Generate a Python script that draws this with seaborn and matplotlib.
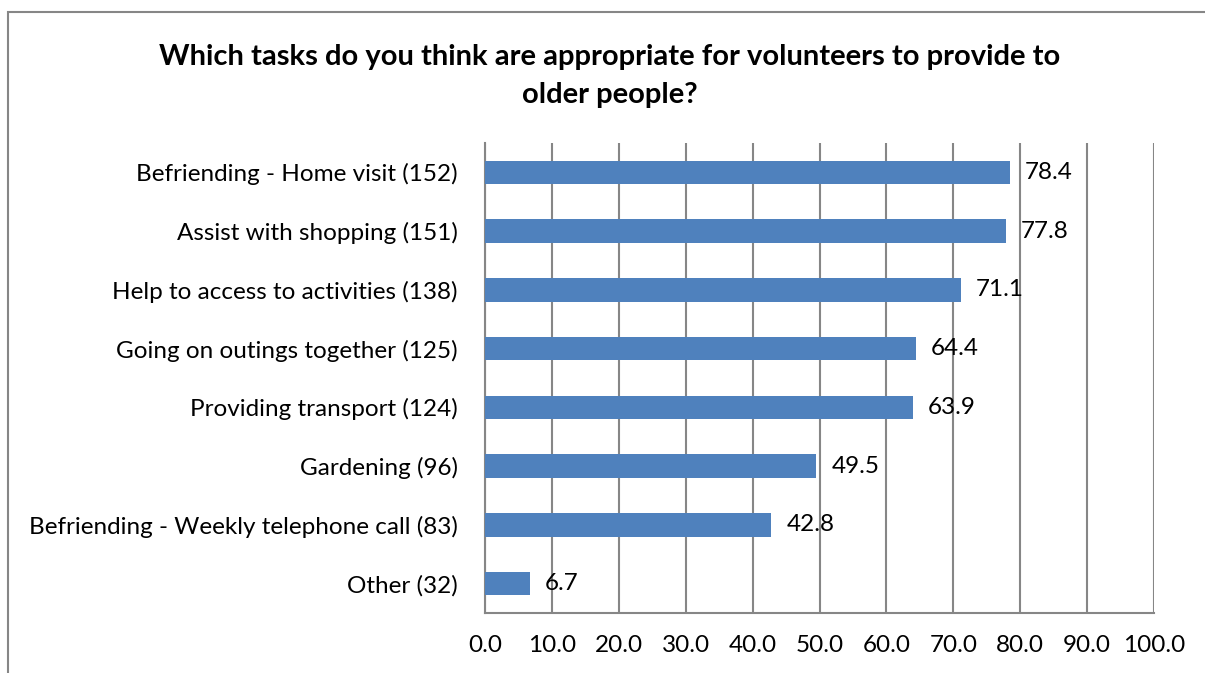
import numpy as np
import pandas as pd
import matplotlib.pyplot as plt
import seaborn as sns
from matplotlib.patches import Rectangle

tasks = [
    "Befriending - Home visit (152)",
    "Assist with shopping (151)",
    "Help to access to activities (138)",
    "Going on outings together (125)",
    "Providing transport (124)",
    "Gardening (96)",
    "Befriending - Weekly telephone call (83)",
    "Other (32)",
]
percent = [78.4, 77.8, 71.1, 64.4, 63.9, 49.5, 42.8, 6.7]
x_ticks = [0, 10, 20, 30, 40, 50, 60, 70, 80, 90, 100]

df = pd.DataFrame({"task": tasks, "percent": percent})

sns.set_style("white")
plt.rcParams["font.family"] = ["Lato", "DejaVu Sans"]
plt.rcParams["text.color"] = "black"
plt.rcParams["xtick.labelcolor"] = "black"
plt.rcParams["ytick.labelcolor"] = "black"

fig = plt.figure(figsize=(12.05, 6.73), dpi=100)
ax = fig.add_axes([0.4025, 0.089, 0.5552, 0.6985])

sns.barplot(data=df, x="percent", y="task", color="#4F81BD", saturation=1,
            width=0.4, linewidth=0, ax=ax, zorder=3)

grid_col = "#868686"
ax.set_xlim(0, 100)
ax.set_ylim(len(tasks) - 0.5, -0.5)
ax.set_xticks(x_ticks)
ax.set_xticklabels([f"{v:.1f}" for v in x_ticks], fontsize=17.5)
ax.set_yticks(np.arange(len(tasks)))
ax.set_yticklabels(tasks, fontsize=17.5)
ax.set_yticks(np.arange(len(tasks) + 1) - 0.5, minor=True)
ax.tick_params(axis="y", which="major", length=0, pad=19.5)
ax.tick_params(axis="y", which="minor", length=6, color=grid_col, width=1.5, direction="out")
ax.tick_params(axis="x", length=6, color=grid_col, width=1.5, direction="out", pad=10)
ax.xaxis.grid(True, color=grid_col, linewidth=1.5, zorder=0)
ax.set_xlabel("")
ax.set_ylabel("")

for s in ["top", "right"]:
    ax.spines[s].set_visible(False)
for s in ["left", "bottom"]:
    ax.spines[s].set_color(grid_col)
    ax.spines[s].set_linewidth(1.5)

for i, v in enumerate(percent):
    ax.text(v + 2.3, i, f"{v:.1f}", va="center", ha="left", fontsize=17.5, zorder=4)

fig.text(0.506, 0.887,
         "Which tasks do you think are appropriate for volunteers to provide to\nolder people?",
         ha="center", va="center", fontsize=21, fontweight="bold", linespacing=1.6)

# outer chart border
fig.patches.append(Rectangle((0.007, -0.05), 1.2, 1.032, transform=fig.transFigure,
                             fill=False, edgecolor="#868686", linewidth=1.5))

fig.savefig("out.png", dpi=100)
